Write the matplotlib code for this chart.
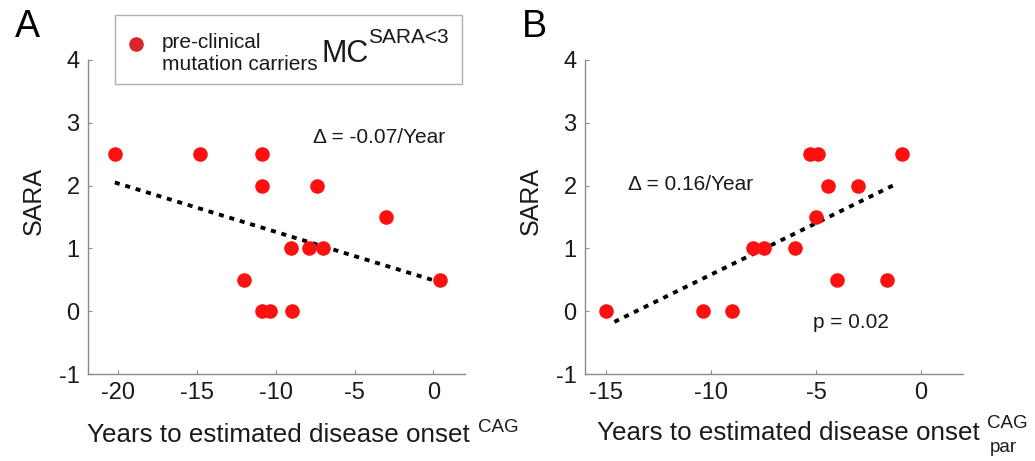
import numpy as np
import matplotlib
matplotlib.use("Agg")
import matplotlib.pyplot as plt
from matplotlib.patches import Rectangle
from matplotlib.lines import Line2D

plt.rcParams['font.family'] = ['Liberation Sans', 'DejaVu Sans']
plt.rcParams['axes.unicode_minus'] = False

# panel A: years to onset (CAG) vs SARA
a_x = [-20.2, -14.8, -10.9, -10.9, -7.4, -3.0, -9.0, -7.9, -7.0,
       -12.0, 0.4, -10.9, -10.35, -8.95]
a_y = [2.5, 2.5, 2.5, 2.0, 2.0, 1.5, 1.0, 1.0, 1.0,
       0.5, 0.5, 0.0, 0.0, 0.0]
a_fit_x = [-20.2, -0.1]
a_fit_y = [2.05, 0.50]

# panel B: years to onset (CAG par) vs SARA
b_x = [-15.0, -10.4, -9.0, -8.0, -7.5, -6.0, -4.0, -1.6,
       -5.3, -4.9, -0.9, -4.45, -3.0, -5.0]
b_y = [0.0, 0.0, 0.0, 1.0, 1.0, 1.0, 0.5, 0.5,
       2.5, 2.5, 2.5, 2.0, 2.0, 1.5]
b_fit_x = [-14.6, -1.1]
b_fit_y = [-0.17, 2.04]

yticks = [-1, 0, 1, 2, 3, 4]
a_xticks = [-20, -15, -10, -5, 0]
b_xticks = [-15, -10, -5, 0]

W, H = 1035, 461
fig = plt.figure(figsize=(W / 100, H / 100), dpi=100)

ax_a = fig.add_axes([88 / W, 1 - 374 / H, 377 / W, 314 / H])
ax_b = fig.add_axes([585 / W, 1 - 374 / H, 378 / W, 314 / H])

grey = '#8a8a8a'
ink = '#1a1a1a'
dot_red = '#ff1010'
ls_fit = (0, (1.3, 1.5))


def style(ax, xticks, xlim):
    ax.set_xlim(*xlim)
    ax.set_ylim(-1, 4)
    ax.set_xticks(xticks)
    ax.set_yticks(yticks)
    for s in ('top', 'right'):
        ax.spines[s].set_visible(False)
    for s in ('left', 'bottom'):
        ax.spines[s].set_color(grey)
        ax.spines[s].set_linewidth(1.0)
    ax.tick_params(direction='in', length=3, width=0.8, color=grey,
                   labelsize=17, labelcolor=ink, pad=6)
    ax.text(-0.143, 0.551, 'SARA', rotation=90, fontsize=18,
            ha='center', va='center', transform=ax.transAxes, color=ink)


style(ax_a, a_xticks, (-21.9, 2.0))
style(ax_b, b_xticks, (-16.0, 2.0))

ax_a.plot(a_fit_x, a_fit_y, color='black', lw=2.8, linestyle=ls_fit, zorder=2)
ax_a.plot(a_x, a_y, 'o', color=dot_red, ms=10.5, mec='none', zorder=3)
ax_b.plot(b_fit_x, b_fit_y, color='black', lw=2.8, linestyle=ls_fit, zorder=2)
ax_b.plot(b_x, b_y, 'o', color=dot_red, ms=10.5, mec='none', zorder=3)

ax_a.text(-7.64, 2.68, '\u0394 = -0.07/Year', fontsize=15, va='baseline', color=ink)
ax_b.text(-13.95, 1.93, '\u0394 = 0.16/Year', fontsize=15, va='baseline', color=ink)
ax_b.text(-5.14, -0.26, 'p = 0.02', fontsize=15, va='baseline', color=ink)

# x labels with superscripts
ax_a.text(-0.003, -0.217, 'Years to estimated disease onset', fontsize=18.7,
          ha='left', va='baseline', transform=ax_a.transAxes, color=ink)
ax_a.text(1.034, -0.185, 'CAG', fontsize=13.5, ha='left', va='baseline',
          transform=ax_a.transAxes, color=ink)
ax_b.text(0.032, -0.21, 'Years to estimated disease onset', fontsize=18.7,
          ha='left', va='baseline', transform=ax_b.transAxes, color=ink)
ax_b.text(1.063, -0.172, 'CAG', fontsize=13.5, ha='left', va='baseline',
          transform=ax_b.transAxes, color=ink)
ax_b.text(1.07, -0.248, 'par', fontsize=13.5, ha='left', va='baseline',
          transform=ax_b.transAxes, color=ink)

# panel letters
fig.text(15 / W, 1 - 37 / H, 'A', fontsize=27, va='baseline')
fig.text(522 / W, 1 - 37 / H, 'B', fontsize=27, va='baseline')

# legend box
fig.add_artist(Rectangle((115 / W, 1 - 84 / H), 347 / W, 69 / H,
                         transform=fig.transFigure, fill=False,
                         edgecolor='#b0b0b0', lw=1.0))
fig.add_artist(Line2D([136 / W], [1 - 44 / H], marker='o', ms=10.5,
                      color='#d9262a', mec='none', transform=fig.transFigure))
fig.text(162 / W, 1 - 48 / H, 'pre-clinical', fontsize=15, va='baseline', color=ink)
fig.text(162 / W, 1 - 70 / H, 'mutation carriers', fontsize=15, va='baseline', color=ink)
fig.text(321 / W, 1 - 62 / H, 'MC', fontsize=22, va='baseline', color=ink)
fig.text(368 / W, 1 - 43 / H, 'SARA<3', fontsize=15, va='baseline', color=ink)

fig.savefig('out.png', dpi=100)
